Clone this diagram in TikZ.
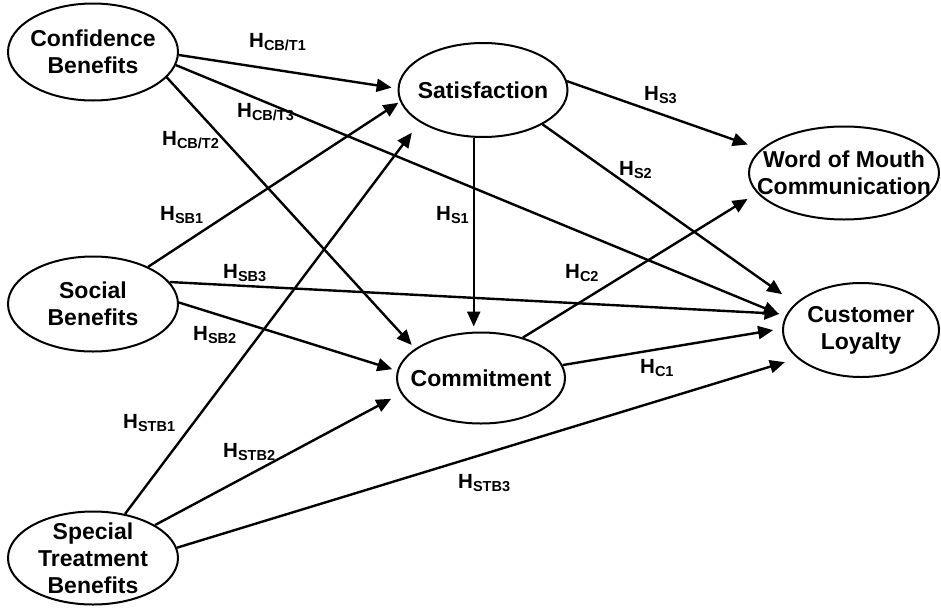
\documentclass[tikz,border=0pt]{standalone}
\usepackage{fontspec}
\setmainfont{Liberation Sans}
\usepackage{tikz}
\usetikzlibrary{shapes.geometric,arrows.meta}

\tikzset{
  latent/.style={ellipse, draw, line width=2pt, inner sep=-20pt, align=center,
    font=\fontsize{23}{27}\selectfont\bfseries},
  hyparrow/.style={line width=2.4pt, -{Triangle[length=15pt,width=13pt]}},
  hlab/.style={inner sep=0pt, anchor=base west, font=\fontsize{20.5}{20}\selectfont\bfseries}
}
\newcommand{\hyp}[1]{H\raisebox{-3.5pt}{\fontsize{14.5}{14}\selectfont #1}}

\begin{document}
\begin{tikzpicture}[x=1pt, y=-1pt]

    \useasboundingbox (0,0) rectangle (941,608);

    \node [latent, minimum width=170pt, minimum height=97pt] (cb) at (93,52) {Confidence\\Benefits};
    \node [latent, minimum width=169pt, minimum height=94pt] (sat) at (483,90) {Satisfaction};
    \node [latent, minimum width=190pt, minimum height=93pt] (wom) at (844,173) {Word of Mouth\\Communication};
    \node [latent, minimum width=170pt, minimum height=95pt] (sb) at (93,304) {Social\\Benefits};
    \node [latent, minimum width=168pt, minimum height=91pt] (com) at (481,378) {Commitment};
    \node [latent, minimum width=156pt, minimum height=94pt] (cl) at (861,330) {Customer\\Loyalty};
    \node [latent, minimum width=170pt, minimum height=93pt] (stb) at (93,558) {Special\\Treatment\\Benefits};

    \draw [hyparrow, shorten >=6pt] (cb.-2) -- (sat.179);
    \draw [hyparrow, shorten >=7pt] (cb.-9) -- (cl.170);
    \draw [hyparrow, shorten >=5pt] (cb.-19) -- (com.156);
    \draw [hyparrow, shorten >=2pt] (sb.34) -- (sat.188);
    \draw [hyparrow, shorten >=7pt] (sb.16) -- (cl.168);
    \draw [hyparrow, shorten >=5pt] (sb.1) -- (com.175);
    \draw [hyparrow, shorten >=13pt] (stb.54) -- (sat.207);
    \draw [hyparrow, shorten >=11pt] (stb.28) -- (com.191);
    \draw [hyparrow, shorten >=13pt] (stb.7) -- (cl.204);
    \draw [hyparrow, shorten >=5pt] (sat.-101) -- (com.north -| sat.-101);
    \draw [hyparrow, shorten >=14pt] (sat.6) -- (wom.164);
    \draw [hyparrow, shorten >=16pt] (sat.-30) -- (cl.158);
    \draw [hyparrow, shorten >=11pt] (com.44) -- (wom.193);
    \draw [hyparrow, shorten >=9pt] (com.9) -- (cl.179);

    \node [hlab] (lcbt1) at (249,47) {\hyp{CB/T1}};
    \node [hlab] (lcbt3) at (237,117) {\hyp{CB/T3}};
    \node [hlab] (lcbt2) at (162,145) {\hyp{CB/T2}};
    \node [hlab] (lsb1) at (160,220) {\hyp{SB1}};
    \node [hlab] (lsb3) at (223,278) {\hyp{SB3}};
    \node [hlab] (lsb2) at (193,340) {\hyp{SB2}};
    \node [hlab] (lstb1) at (123,428) {\hyp{STB1}};
    \node [hlab] (lstb2) at (223,457) {\hyp{STB2}};
    \node [hlab] (lstb3) at (458,488) {\hyp{STB3}};
    \node [hlab] (ls1) at (436,220) {\hyp{S1}};
    \node [hlab] (ls3) at (644,100) {\hyp{S3}};
    \node [hlab] (ls2) at (619,175) {\hyp{S2}};
    \node [hlab] (lc2) at (565,278) {\hyp{C2}};
    \node [hlab] (lc1) at (640,373) {\hyp{C1}};

\end{tikzpicture}
\end{document}
